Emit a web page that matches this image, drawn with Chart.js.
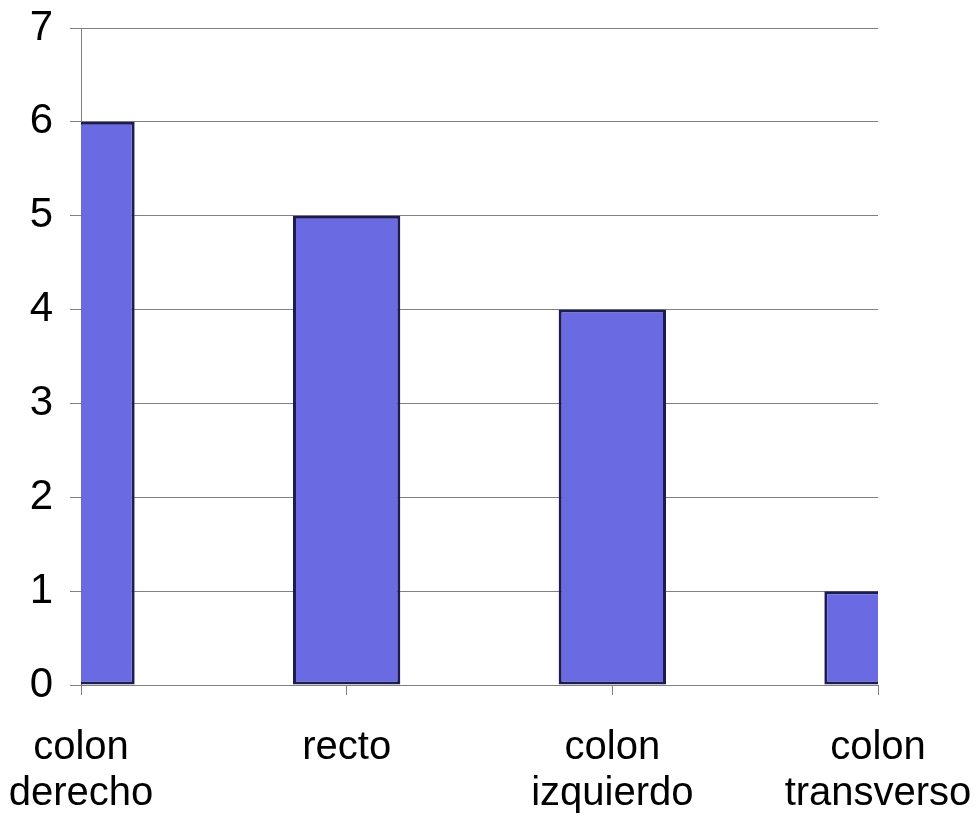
<!DOCTYPE html>
<html>
<head>
<meta charset="utf-8">
<script src="https://cdn.jsdelivr.net/npm/chart.js@4"></script>
<style>
  html, body { margin: 0; padding: 0; background: #fff; }
  #wrap { width: 980px; height: 819px; }
</style>
</head>
<body>
<div id="wrap"><canvas id="chart"></canvas></div>
<script>
// categories (multi-line labels) and counts
const categories = [
  ['colon', 'derecho'],
  ['recto'],
  ['colon', 'izquierdo'],
  ['colon', 'transverso']
];
const counts = [6, 5, 4, 1];
const yTicks = [0, 1, 2, 3, 4, 5, 6, 7];

const ctx = document.getElementById('chart').getContext('2d');

const chart = new Chart(ctx, {
  type: 'bar',
  data: {
    labels: categories,
    datasets: [{
      data: counts,
      backgroundColor: '#6a6ae2',
      borderColor: '#1c1c55',
      borderWidth: 3,
      borderSkipped: false,
      categoryPercentage: 1,
      barPercentage: 0.404,
      clip: 0
    }]
  },
  options: {
    responsive: true,
    maintainAspectRatio: false,
    animation: false,
    layout: { padding: { top: 28, right: 102, left: 0, bottom: 0 } },
    plugins: {
      legend: { display: false },
      tooltip: { enabled: false }
    },
    scales: {
      x: {
        offset: false,
        grid: {
          offset: false,
          drawOnChartArea: false,
          drawTicks: true,
          tickLength: 10,
          color: '#808080',
          lineWidth: 1
        },
        border: { display: true, color: '#808080', width: 1 },
        ticks: {
          color: '#000',
          font: { family: 'Arial, "Liberation Sans"', size: 40, lineHeight: 1.15 },
          padding: 30,
          maxRotation: 0,
          autoSkip: false
        },
        // fixed height, and no extra side padding from the long labels
        afterFit: s => { s.height = 134; s.paddingLeft = 0; s.paddingRight = 0; }
      },
      y: {
        min: 0,
        max: 7,
        afterBuildTicks: s => { s.ticks = yTicks.map(v => ({ value: v })); },
        grid: {
          color: '#808080',
          lineWidth: 1,
          tickLength: 11
        },
        border: { display: true, color: '#808080', width: 1 },
        ticks: {
          color: '#000',
          font: { family: 'Arial, "Liberation Sans"', size: 42 },
          padding: 17
        },
        afterFit: s => { s.width = 81; s.paddingTop = 0; s.paddingBottom = 0; }
      }
    }
  }
});
</script>
</body>
</html>
